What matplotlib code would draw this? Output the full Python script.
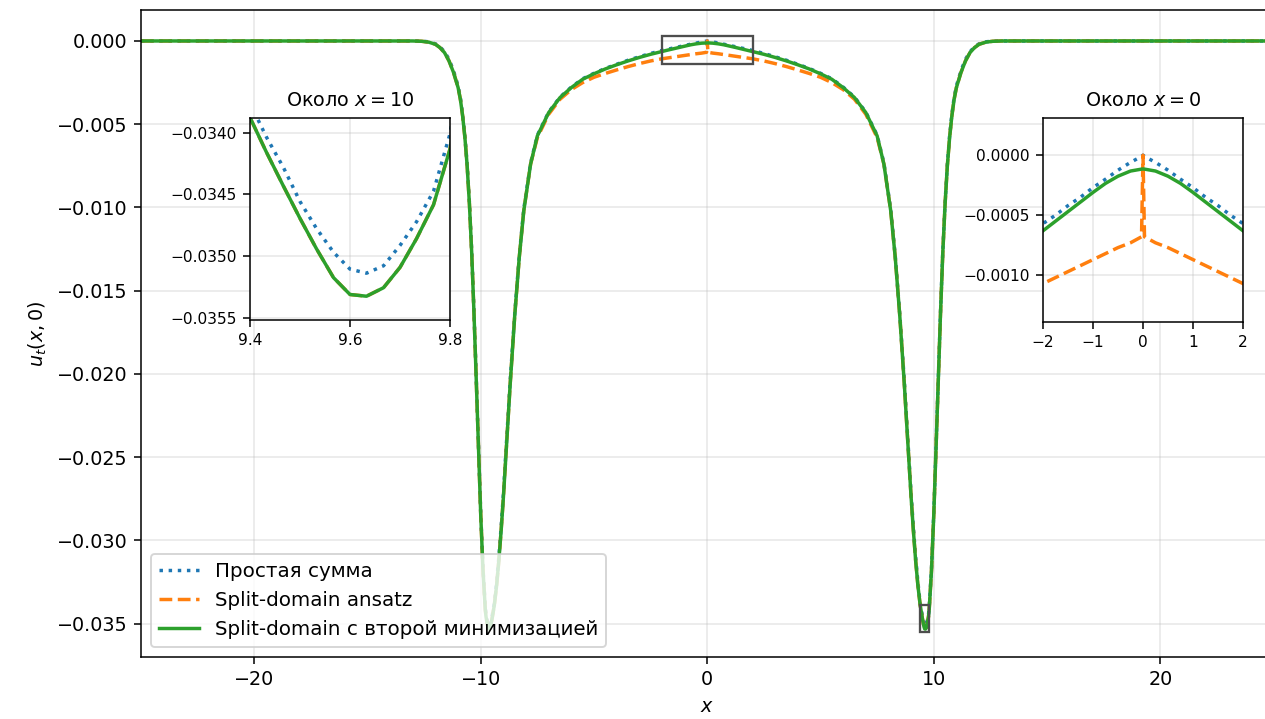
import matplotlib
matplotlib.use("Agg")
import matplotlib.pyplot as plt
from matplotlib.patches import Rectangle

# Sample positions along x (denser around the two troughs near x = ±9.6)
x = [
    -25.0, -21.0, -17.0, -14.0, -13.0, -12.6, -12.3,
    -12.0, -11.8, -11.6, -11.4, -11.2, -11.0, -10.9, -10.8, -10.7, -10.6,
    -10.5, -10.4, -10.3, -10.2, -10.1, -10.0, -9.9, -9.8, -9.767, -9.733,
    -9.7, -9.667, -9.633, -9.6, -9.567, -9.533, -9.5, -9.467, -9.433, -9.4,
    -9.3, -9.2, -9.1, -9.0, -8.85, -8.7, -8.5, -8.3, -8.1, -7.8,
    -7.5, -7.0, -6.5, -6.0, -5.5, -5.0, -4.5, -4.0, -3.5, -3.0,
    -2.5, -2.0, -1.75, -1.5, -1.25, -1.0, -0.75, -0.5, -0.25, -0.03,
    0.0,
    0.03, 0.25, 0.5, 0.75, 1.0, 1.25, 1.5, 1.75, 2.0, 2.5,
    3.0, 3.5, 4.0, 4.5, 5.0, 5.5, 6.0, 6.5, 7.0, 7.5,
    7.8, 8.1, 8.3, 8.5, 8.7, 8.85, 9.0, 9.1, 9.2, 9.3,
    9.4, 9.433, 9.467, 9.5, 9.533, 9.567, 9.6, 9.633, 9.667, 9.7,
    9.733, 9.767, 9.8, 9.9, 10.0, 10.1, 10.2, 10.3, 10.4, 10.5,
    10.6, 10.7, 10.8, 10.9, 11.0, 11.2, 11.4, 11.6, 11.8, 12.0,
    12.3, 12.6, 13.0, 14.0, 17.0, 21.0, 25.0,
]

# u_t(x, 0): plain superposition of the two solutions
simple_sum = [
    0.0, 0.0, 0.0, 0.0, 0.0, -0.00001, -0.00005,
    -0.00017, -0.00035, -0.00065, -0.0011, -0.0018, -0.0027, -0.0034, -0.0044, -0.0057, -0.0074,
    -0.0097, -0.0126, -0.0162, -0.0202, -0.0244, -0.0284, -0.0317, -0.034008, -0.034475, -0.034723,
    -0.034915, -0.03508, -0.03514, -0.035107, -0.03497, -0.034777, -0.034558, -0.034283, -0.034036, -0.03376,
    -0.0325, -0.031, -0.0292, -0.0272, -0.0238, -0.0204, -0.0164, -0.0129, -0.0101, -0.00733,
    -0.00566, -0.00427, -0.00337, -0.00277, -0.00227, -0.00194, -0.00165, -0.0014, -0.00116, -0.00095,
    -0.00075, -0.00057, -0.0005, -0.00042, -0.00035, -0.00027, -0.0002, -0.000125, -0.00006, -0.00001,
    0.0,
    -0.00001, -0.00006, -0.000125, -0.0002, -0.00027, -0.00035, -0.00042, -0.0005, -0.00057, -0.00075,
    -0.00095, -0.00116, -0.0014, -0.00165, -0.00194, -0.00227, -0.00277, -0.00337, -0.00427, -0.00566,
    -0.00733, -0.0101, -0.0129, -0.0164, -0.0204, -0.0238, -0.0272, -0.0292, -0.031, -0.0325,
    -0.03376, -0.034036, -0.034283, -0.034558, -0.034777, -0.03497, -0.035107, -0.03514, -0.03508, -0.034915,
    -0.034723, -0.034475, -0.034008, -0.0317, -0.0284, -0.0244, -0.0202, -0.0162, -0.0126, -0.0097,
    -0.0074, -0.0057, -0.0044, -0.0034, -0.0027, -0.0018, -0.0011, -0.00065, -0.00035, -0.00017,
    -0.00005, -0.00001, 0.0, 0.0, 0.0, 0.0, 0.0,
]

# u_t(x, 0): split-domain ansatz (jump at x = 0)
split_ansatz = [
    0.0, 0.0, 0.0, 0.0, 0.0, -0.00002, -0.00007,
    -0.0002, -0.0004, -0.0007, -0.0012, -0.0019, -0.0028, -0.0035, -0.0045, -0.0058, -0.0075,
    -0.0098, -0.0127, -0.0163, -0.0203, -0.0245, -0.0285, -0.0318, -0.034132, -0.034585, -0.03486,
    -0.035093, -0.035258, -0.035327, -0.035313, -0.035176, -0.034942, -0.034695, -0.034434, -0.034159, -0.033876,
    -0.0327, -0.0312, -0.0294, -0.0274, -0.024, -0.0206, -0.0165, -0.013, -0.0102, -0.0074,
    -0.0058, -0.0044, -0.0035, -0.00292, -0.0025, -0.00218, -0.00195, -0.00174, -0.00154, -0.00136,
    -0.0012, -0.00107, -0.00102, -0.00097, -0.00092, -0.00087, -0.00082, -0.00077, -0.00073, -0.00068,
    0.0,
    -0.00068, -0.00073, -0.00077, -0.00082, -0.00087, -0.00092, -0.00097, -0.00102, -0.00107, -0.0012,
    -0.00136, -0.00154, -0.00174, -0.00195, -0.00218, -0.0025, -0.00292, -0.0035, -0.0044, -0.0058,
    -0.0074, -0.0102, -0.013, -0.0165, -0.0206, -0.024, -0.0274, -0.0294, -0.0312, -0.0327,
    -0.033876, -0.034159, -0.034434, -0.034695, -0.034942, -0.035176, -0.035313, -0.035327, -0.035258, -0.035093,
    -0.03486, -0.034585, -0.034132, -0.0318, -0.0285, -0.0245, -0.0203, -0.0163, -0.0127, -0.0098,
    -0.0075, -0.0058, -0.0045, -0.0035, -0.0028, -0.0019, -0.0012, -0.0007, -0.0004, -0.0002,
    -0.00007, -0.00002, 0.0, 0.0, 0.0, 0.0, 0.0,
]

# u_t(x, 0): split-domain ansatz after the second minimisation
split_min = [
    0.0, 0.0, 0.0, 0.0, 0.0, -0.00002, -0.00007,
    -0.0002, -0.0004, -0.0007, -0.0012, -0.0019, -0.0028, -0.0035, -0.0045, -0.0058, -0.0075,
    -0.0098, -0.0127, -0.0163, -0.0203, -0.0245, -0.0285, -0.0318, -0.034132, -0.034585, -0.03486,
    -0.035093, -0.035258, -0.035327, -0.035313, -0.035176, -0.034942, -0.034695, -0.034434, -0.034159, -0.033876,
    -0.0327, -0.0312, -0.0294, -0.0274, -0.024, -0.0206, -0.0165, -0.013, -0.0102, -0.0074,
    -0.0057, -0.0043, -0.0034, -0.0028, -0.0023, -0.00197, -0.00168, -0.00143, -0.0012, -0.00099,
    -0.0008, -0.00063, -0.00055, -0.000471, -0.00039, -0.00031, -0.000235, -0.000175, -0.000132, -0.000116,
    -0.000115,
    -0.000116, -0.000132, -0.000175, -0.000235, -0.00031, -0.00039, -0.000471, -0.00055, -0.00063, -0.0008,
    -0.00099, -0.0012, -0.00143, -0.00168, -0.00197, -0.0023, -0.0028, -0.0034, -0.0043, -0.0057,
    -0.0074, -0.0102, -0.013, -0.0165, -0.0206, -0.024, -0.0274, -0.0294, -0.0312, -0.0327,
    -0.033876, -0.034159, -0.034434, -0.034695, -0.034942, -0.035176, -0.035313, -0.035327, -0.035258, -0.035093,
    -0.03486, -0.034585, -0.034132, -0.0318, -0.0285, -0.0245, -0.0203, -0.0163, -0.0127, -0.0098,
    -0.0075, -0.0058, -0.0045, -0.0035, -0.0028, -0.0019, -0.0012, -0.0007, -0.0004, -0.0002,
    -0.00007, -0.00002, 0.0, 0.0, 0.0, 0.0, 0.0,
]

series_labels = [
    "Простая сумма",
    "Split-domain ansatz",
    "Split-domain с второй минимизацией",
]

# Zoom windows of the two insets
zoom_far_x = (9.4, 9.8)
zoom_far_y = (-0.03552, -0.03388)
zoom_far_yticks = [-0.0340, -0.0345, -0.0350, -0.0355]
zoom_far_xticks = [9.4, 9.6, 9.8]
zoom_mid_x = (-2.0, 2.0)
zoom_mid_y = (-0.00139, 0.00031)
zoom_mid_yticks = [0.0, -0.0005, -0.0010]
zoom_mid_xticks = [-2, -1, 0, 1, 2]

assert len(x) == len(simple_sum) == len(split_ansatz) == len(split_min)

DPI = 138
W, H = 1265, 719
fig = plt.figure(figsize=(W / DPI, H / DPI), dpi=DPI)


def draw_series(a):
    a.plot(x, simple_sum, linestyle=":", color="#1f77b4", lw=1.8, label=series_labels[0])
    a.plot(x, split_ansatz, linestyle="--", color="#ff7f0e", lw=1.8, label=series_labels[1])
    a.plot(x, split_min, linestyle="-", color="#2ca02c", lw=1.8, label=series_labels[2])


# Main panel
ax = fig.add_axes([141 / W, 62 / H, 1132.5 / W, 647 / H])
draw_series(ax)
ax.set_xlim(-25, 25)
ax.set_ylim(-0.0370, 0.00186)
ax.grid(True, alpha=0.3)
ax.set_xlabel("$x$")
ax.set_ylabel("$u_t(x, 0)$")
ax.legend(loc="lower left", fontsize=10.4)

# Inset near the trough at x ≈ 9.6
ins_far = fig.add_axes([250 / W, (H - 320) / H, 200 / W, 202 / H])
draw_series(ins_far)
ins_far.set_xlim(*zoom_far_x)
ins_far.set_ylim(*zoom_far_y)
ins_far.set_xticks(zoom_far_xticks)
ins_far.set_yticks(zoom_far_yticks)
ins_far.tick_params(labelsize=8)
ins_far.grid(True, alpha=0.3)
ins_far.set_title("Около $x = 10$", fontsize=10)

# Inset around the origin
ins_mid = fig.add_axes([1043 / W, (H - 322) / H, 200 / W, 204 / H])
draw_series(ins_mid)
ins_mid.set_xlim(*zoom_mid_x)
ins_mid.set_ylim(*zoom_mid_y)
ins_mid.set_xticks(zoom_mid_xticks)
ins_mid.set_yticks(zoom_mid_yticks)
ins_mid.tick_params(labelsize=8)
ins_mid.grid(True, alpha=0.3)
ins_mid.set_title("Около $x = 0$", fontsize=10)

# Frames on the main panel marking the zoomed windows
for xs, ys in ((zoom_mid_x, zoom_mid_y), (zoom_far_x, zoom_far_y)):
    ax.add_patch(Rectangle((xs[0], ys[0]), xs[1] - xs[0], ys[1] - ys[0],
                           fill=False, edgecolor="0.3", lw=1.2, zorder=5))

fig.savefig("out.png", dpi=DPI)
